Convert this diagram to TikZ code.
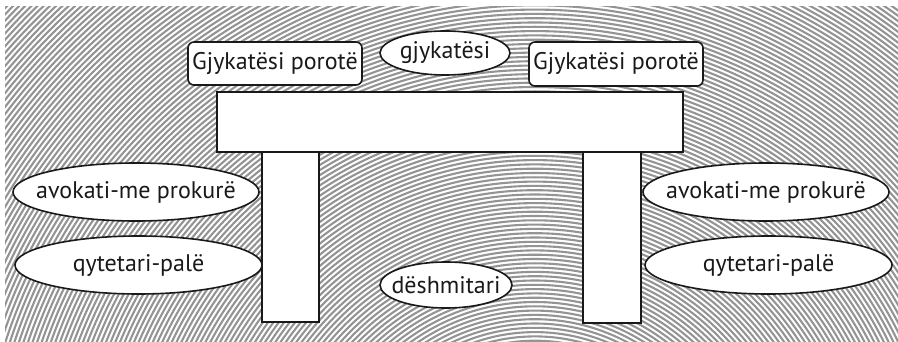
\documentclass[tikz,border=0pt]{standalone}
\usepackage{fontspec}
\setmainfont{PT Sans}
\usetikzlibrary{shapes.geometric}
\begin{document}
\begin{tikzpicture}[x=1pt,y=-1pt,
  lbl/.style={font=\fontsize{24}{28}\selectfont, text=black!90},
  outline/.style={draw=black!90, line width=1.6pt, fill=white},
  rbox/.style={outline, lbl, rounded corners=6pt, inner sep=0pt},
  oval/.style={outline, lbl, ellipse, inner sep=0pt},
  plank/.style={outline, rectangle, inner sep=0pt}
]
\useasboundingbox (0,0) rectangle (898,342);
\fill[white] (0,0) rectangle (898,342);
\begin{scope}
  \clip (5,7) rectangle (898,342);
  \foreach \r in {170,174.3,...,746}
    \draw[black!42, line width=2.1pt] (535,515) circle[radius=\r pt];
\end{scope}

% legs and table
\node[plank, minimum width=57pt, minimum height=170pt] (legL) at (290.5,237) {};
\node[plank, minimum width=58pt, minimum height=171pt] (legR) at (612,237.5) {};
\node[plank, minimum width=466pt, minimum height=60pt] (table) at (450,122) {};

% top labels
\node[rbox, minimum width=174pt, minimum height=43pt] (juryL) at (275,63.5) {\makebox[0pt]{Gjykatësi porotë}};
\node[rbox, minimum width=174pt, minimum height=44pt] (juryR) at (616,64) {\makebox[0pt]{Gjykatësi porotë}};
\node[oval, minimum width=130pt, minimum height=44pt] (judge) at (445,53) {\makebox[0pt]{gjykatësi}};

% side ellipses
\node[oval, minimum width=246pt, minimum height=58pt] (lawL) at (136,192) {\makebox[0pt]{avokati-me prokurë}};
\node[oval, minimum width=247pt, minimum height=58pt] (partyL) at (138.5,265) {\makebox[0pt]{qytetari-palë}};
\node[oval, minimum width=246pt, minimum height=58pt] (lawR) at (766,192) {\makebox[0pt]{avokati-me prokurë}};
\node[oval, minimum width=247pt, minimum height=58pt] (partyR) at (768.5,265) {\makebox[0pt]{qytetari-palë}};

% witness
\node[oval, minimum width=132pt, minimum height=46pt] (witness) at (446,285) {\makebox[0pt]{dëshmitari}};
\end{tikzpicture}
\end{document}
